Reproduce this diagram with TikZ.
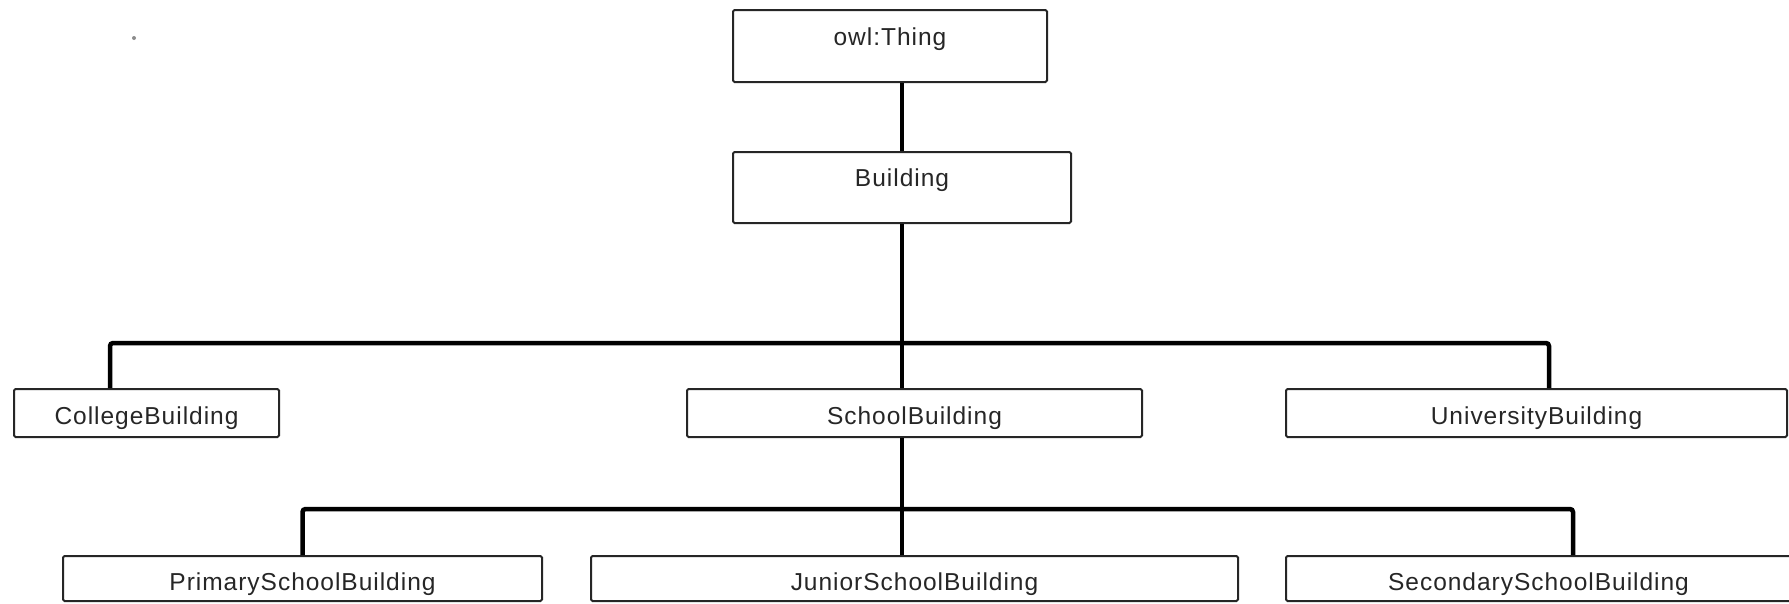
\documentclass[tikz,border=0pt]{standalone}
\usepackage{fontspec}
\setmainfont[LetterSpace=4]{Liberation Sans}
\begin{document}
\begin{tikzpicture}[x=1pt,y=-1pt,
  box/.style={draw=black!85, line width=2pt, fill=white, rounded corners=1.5pt, inner sep=0pt},
  lbl/.style={font=\fontsize{24.5}{28}\selectfont, text=black!85, inner sep=0pt},
  conn/.style={draw=black, line width=4.5pt, rounded corners=3pt}]
\useasboundingbox (0,0) rectangle (1789,603);
% boxes
\node[box, minimum width=314, minimum height=72] (thing) at (890,46) {};
\node[box, minimum width=338, minimum height=71] (building) at (902,187.5) {};
\node[box, minimum width=265, minimum height=48] (college) at (146.5,413) {};
\node[box, minimum width=455, minimum height=48] (school) at (914.5,413) {};
\node[box, minimum width=501, minimum height=48] (university) at (1536.5,413) {};
\node[box, minimum width=479, minimum height=45] (primary) at (302.5,578.5) {};
\node[box, minimum width=647, minimum height=45] (junior) at (914.5,578.5) {};
\node[box, minimum width=505, minimum height=45] (secondary) at (1538.5,578.5) {};
% labels
\node[lbl] (thingL) at (890,39.5) {owl:Thing};
\node[lbl] (buildingL) at (902,180.5) {Building};
\node[lbl] (collegeL) at (146.5,418.5) {CollegeBuilding};
\node[lbl] (schoolL) at (914.5,418.5) {SchoolBuilding};
\node[lbl] (universityL) at (1536.5,418.5) {UniversityBuilding};
\node[lbl] (primaryL) at (302.5,584.5) {PrimarySchoolBuilding};
\node[lbl] (juniorL) at (914.5,584.5) {JuniorSchoolBuilding};
\node[lbl] (secondaryL) at (1538.5,584.5) {SecondarySchoolBuilding};
% junctions
\coordinate (j1) at (902,343);
\coordinate (j2) at (902,509);
% connectors
\draw[conn] ([xshift=12pt]thing.south) -- (building.north);
\draw[conn] (building.south) -- (j1);
\draw[conn] ([xshift=-36.5pt]college.north) |- (j1) -| ([xshift=12.5pt]university.north);
\draw[conn] (j1) -- ([xshift=-12.5pt]school.north);
\draw[conn] ([xshift=-12.5pt]school.south) -- (j2);
\draw[conn] (primary.north) |- (j2) -| ([xshift=34.5pt]secondary.north);
\draw[conn] (j2) -- ([xshift=-12.5pt]junior.north);
% stray mark
\fill[black!45] (134,38) circle (2pt);
\end{tikzpicture}
\end{document}
